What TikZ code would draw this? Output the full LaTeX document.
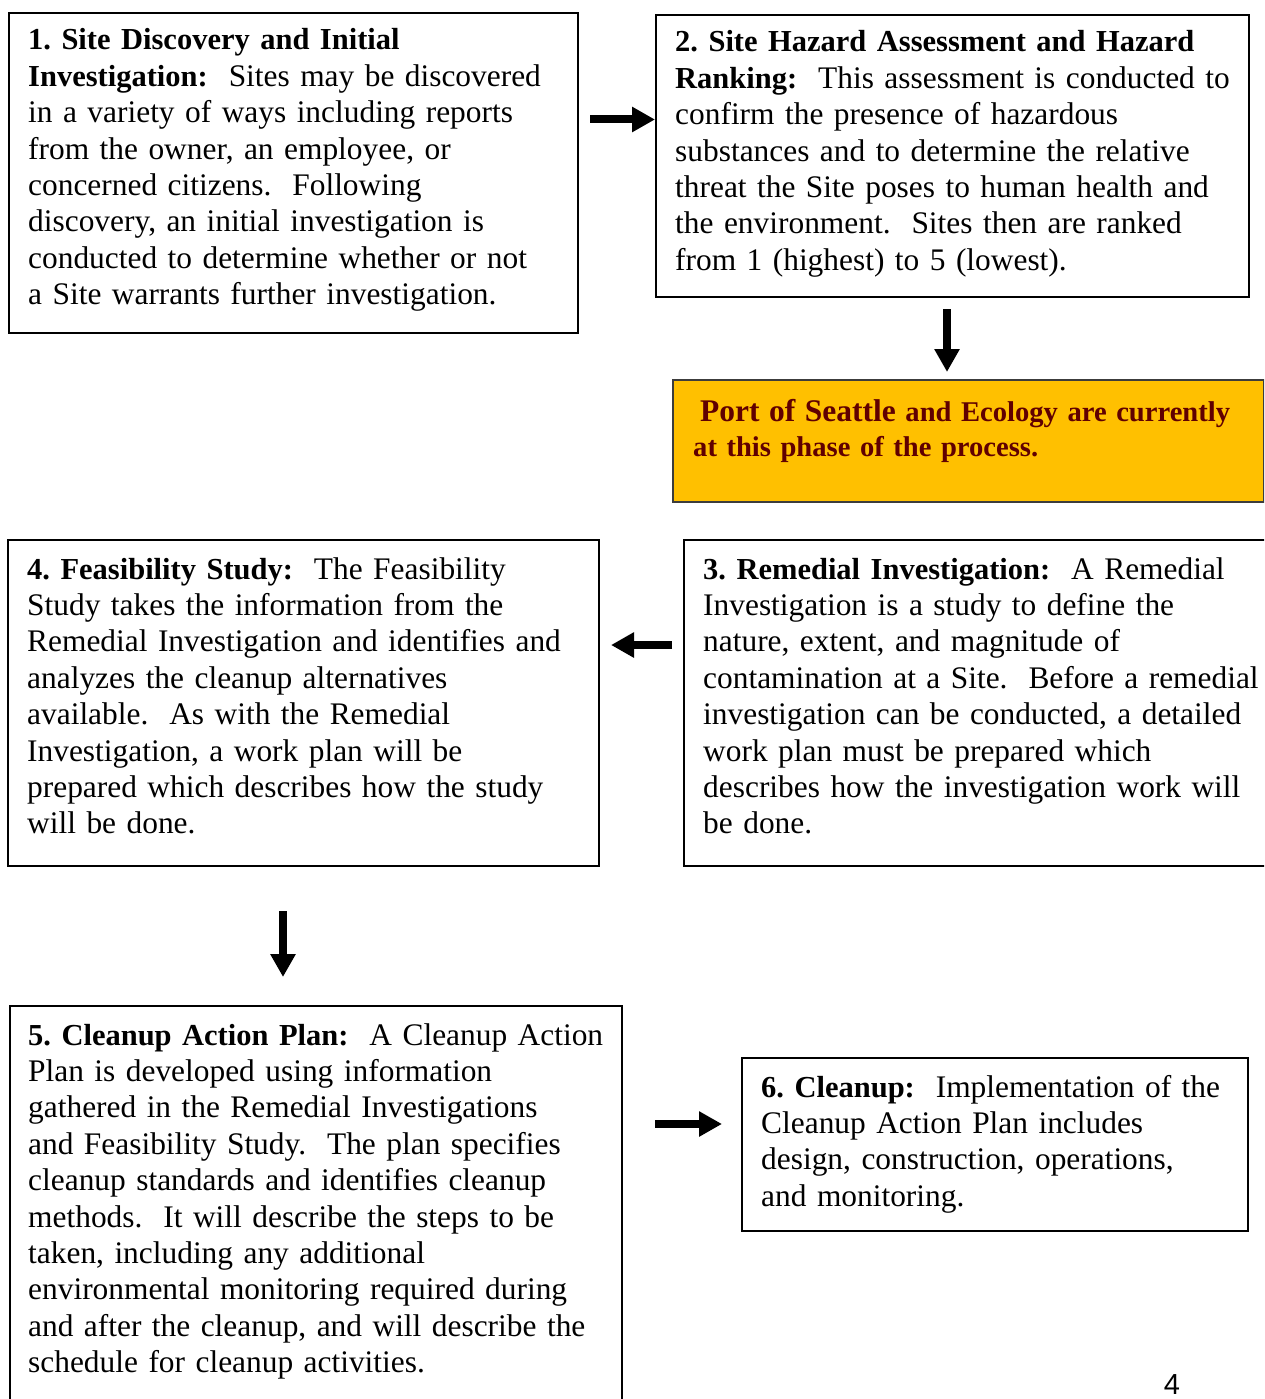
\documentclass[tikz,border=0pt]{standalone}
\usepackage{fontspec}
\setmainfont{Liberation Serif}
\newfontfamily\pagenumfont{Liberation Sans}
\usetikzlibrary{arrows.meta,calc}
\definecolor{phaseorange}{RGB}{255,192,0}
\definecolor{phasetext}{RGB}{96,0,0}
\definecolor{phaseborder}{RGB}{60,60,60}
\frenchspacing
\newcommand{\hd}[1]{{\bfseries\fontsize{30.5}{36.4}\selectfont #1}}
\begin{document}
\begin{tikzpicture}[x=1pt,y=-1pt,
  stepbox/.style={draw=black, line width=2pt, rectangle, inner sep=0pt, anchor=north west},
  phasebox/.style={draw=phaseborder, fill=phaseorange, line width=2pt, rectangle, inner sep=0pt, anchor=north west},
  txt/.style={anchor=base west, inner sep=0pt, text width=620pt, align=left,
    font=\frenchspacing\fontsize{31.4}{36.4}\selectfont},
  phasetxt/.style={anchor=base west, inner sep=0pt, text width=600pt, align=left,
    text=phasetext, font=\frenchspacing\bfseries\fontsize{28.6}{35}\selectfont},
  arr/.style={line width=8pt, -{Triangle[length=23pt,width=24pt]}}
]
\useasboundingbox (0,0) rectangle (1264,1399);
\fill[white] (0,0) rectangle (1264,1399);
\clip (0,0) rectangle (1264,1399);

% boxes
\node[stepbox, minimum width=569pt, minimum height=320pt] (b1) at (8,12) {};
\node[stepbox, minimum width=593pt, minimum height=282pt] (b2) at (655,14) {};
\node[phasebox, minimum width=591pt, minimum height=122pt] (or) at (672,379) {};
\node[stepbox, minimum width=591pt, minimum height=326pt] (b4) at (7,539) {};
\node[stepbox, minimum width=600pt, minimum height=326pt] (b3) at (683,539) {};
\node[stepbox, minimum width=612pt, minimum height=420pt] (b5) at (9,1005) {};
\node[stepbox, minimum width=506pt, minimum height=173pt] (b6) at (741,1057) {};

% texts
\node[txt] (t1) at (28,50) {\hd{1. Site Discovery and Initial}\\
\hd{Investigation:}\ \ Sites may be discovered\\
in a variety of ways including reports\\
from the owner, an employee, or\\
concerned citizens.\ \ Following\\
discovery, an initial investigation is\\
conducted to determine whether or not\\
a Site warrants further investigation.};

\node[txt] (t2) at (675,52) {\hd{2. Site Hazard Assessment and Hazard}\\
\hd{Ranking:}\ \ This assessment is conducted to\\
confirm the presence of hazardous\\
substances and to determine the relative\\
threat the Site poses to human health and\\
the environment.\ \ Sites then are ranked\\
from 1 (highest) to 5 (lowest).};

\node[phasetxt] (to) at (693,421) {\hspace*{7pt}{\fontsize{31.5}{35}\selectfont Port of Seattle} and Ecology are currently\\
at this phase of the process.};

\node[txt] (t4) at (27,579) {\hd{4. Feasibility Study:}\ \ The Feasibility\\
Study takes the information from the\\
Remedial Investigation and identifies and\\
analyzes the cleanup alternatives\\
available.\ \ As with the Remedial\\
Investigation, a work plan will be\\
prepared which describes how the study\\
will be done.};

\node[txt] (t3) at (703,579) {\hd{3. Remedial Investigation:}\ \ A Remedial\\
Investigation is a study to define the\\
nature, extent, and magnitude of\\
contamination at a Site.\ \ Before a remedial\\
investigation can be conducted, a detailed\\
work plan must be prepared which\\
describes how the investigation work will\\
be done.};

\node[txt] (t5) at (28,1045) {\hd{5. Cleanup Action Plan:}\ \ A Cleanup Action\\
Plan is developed using information\\
gathered in the Remedial Investigations\\
and Feasibility Study.\ \ The plan specifies\\
cleanup standards and identifies cleanup\\
methods.\ \ It will describe the steps to be\\
taken, including any additional\\
environmental monitoring required during\\
and after the cleanup, and will describe the\\
schedule for cleanup activities.};

\node[txt] (t6) at (761,1097) {\hd{6. Cleanup:}\ \ Implementation of the\\
Cleanup Action Plan includes\\
design, construction, operations,\\
and monitoring.};

\node[anchor=base, inner sep=0pt, font=\pagenumfont\fontsize{29}{36}\selectfont] (pg) at (1172,1394) {4};

% arrows
\coordinate (s12) at (590,119.5);
\coordinate (s2o) at (947,309);
\coordinate (s34) at (672,645);
\coordinate (s45) at (283,911);
\coordinate (s56) at (655,1124);
\draw[arr] (s12) -- (s12 -| b2.west);
\draw[arr] (s2o) -- ($(s2o |- or.north)+(0,-7)$);
\draw[arr] (s34) -- ($(s34 -| b4.east)+(11,0)$);
\draw[arr] (s45) -- ($(s45 |- b5.north)+(0,-28)$);
\draw[arr] (s56) -- ($(s56 -| b6.west)+(-19,0)$);
\end{tikzpicture}
\end{document}
